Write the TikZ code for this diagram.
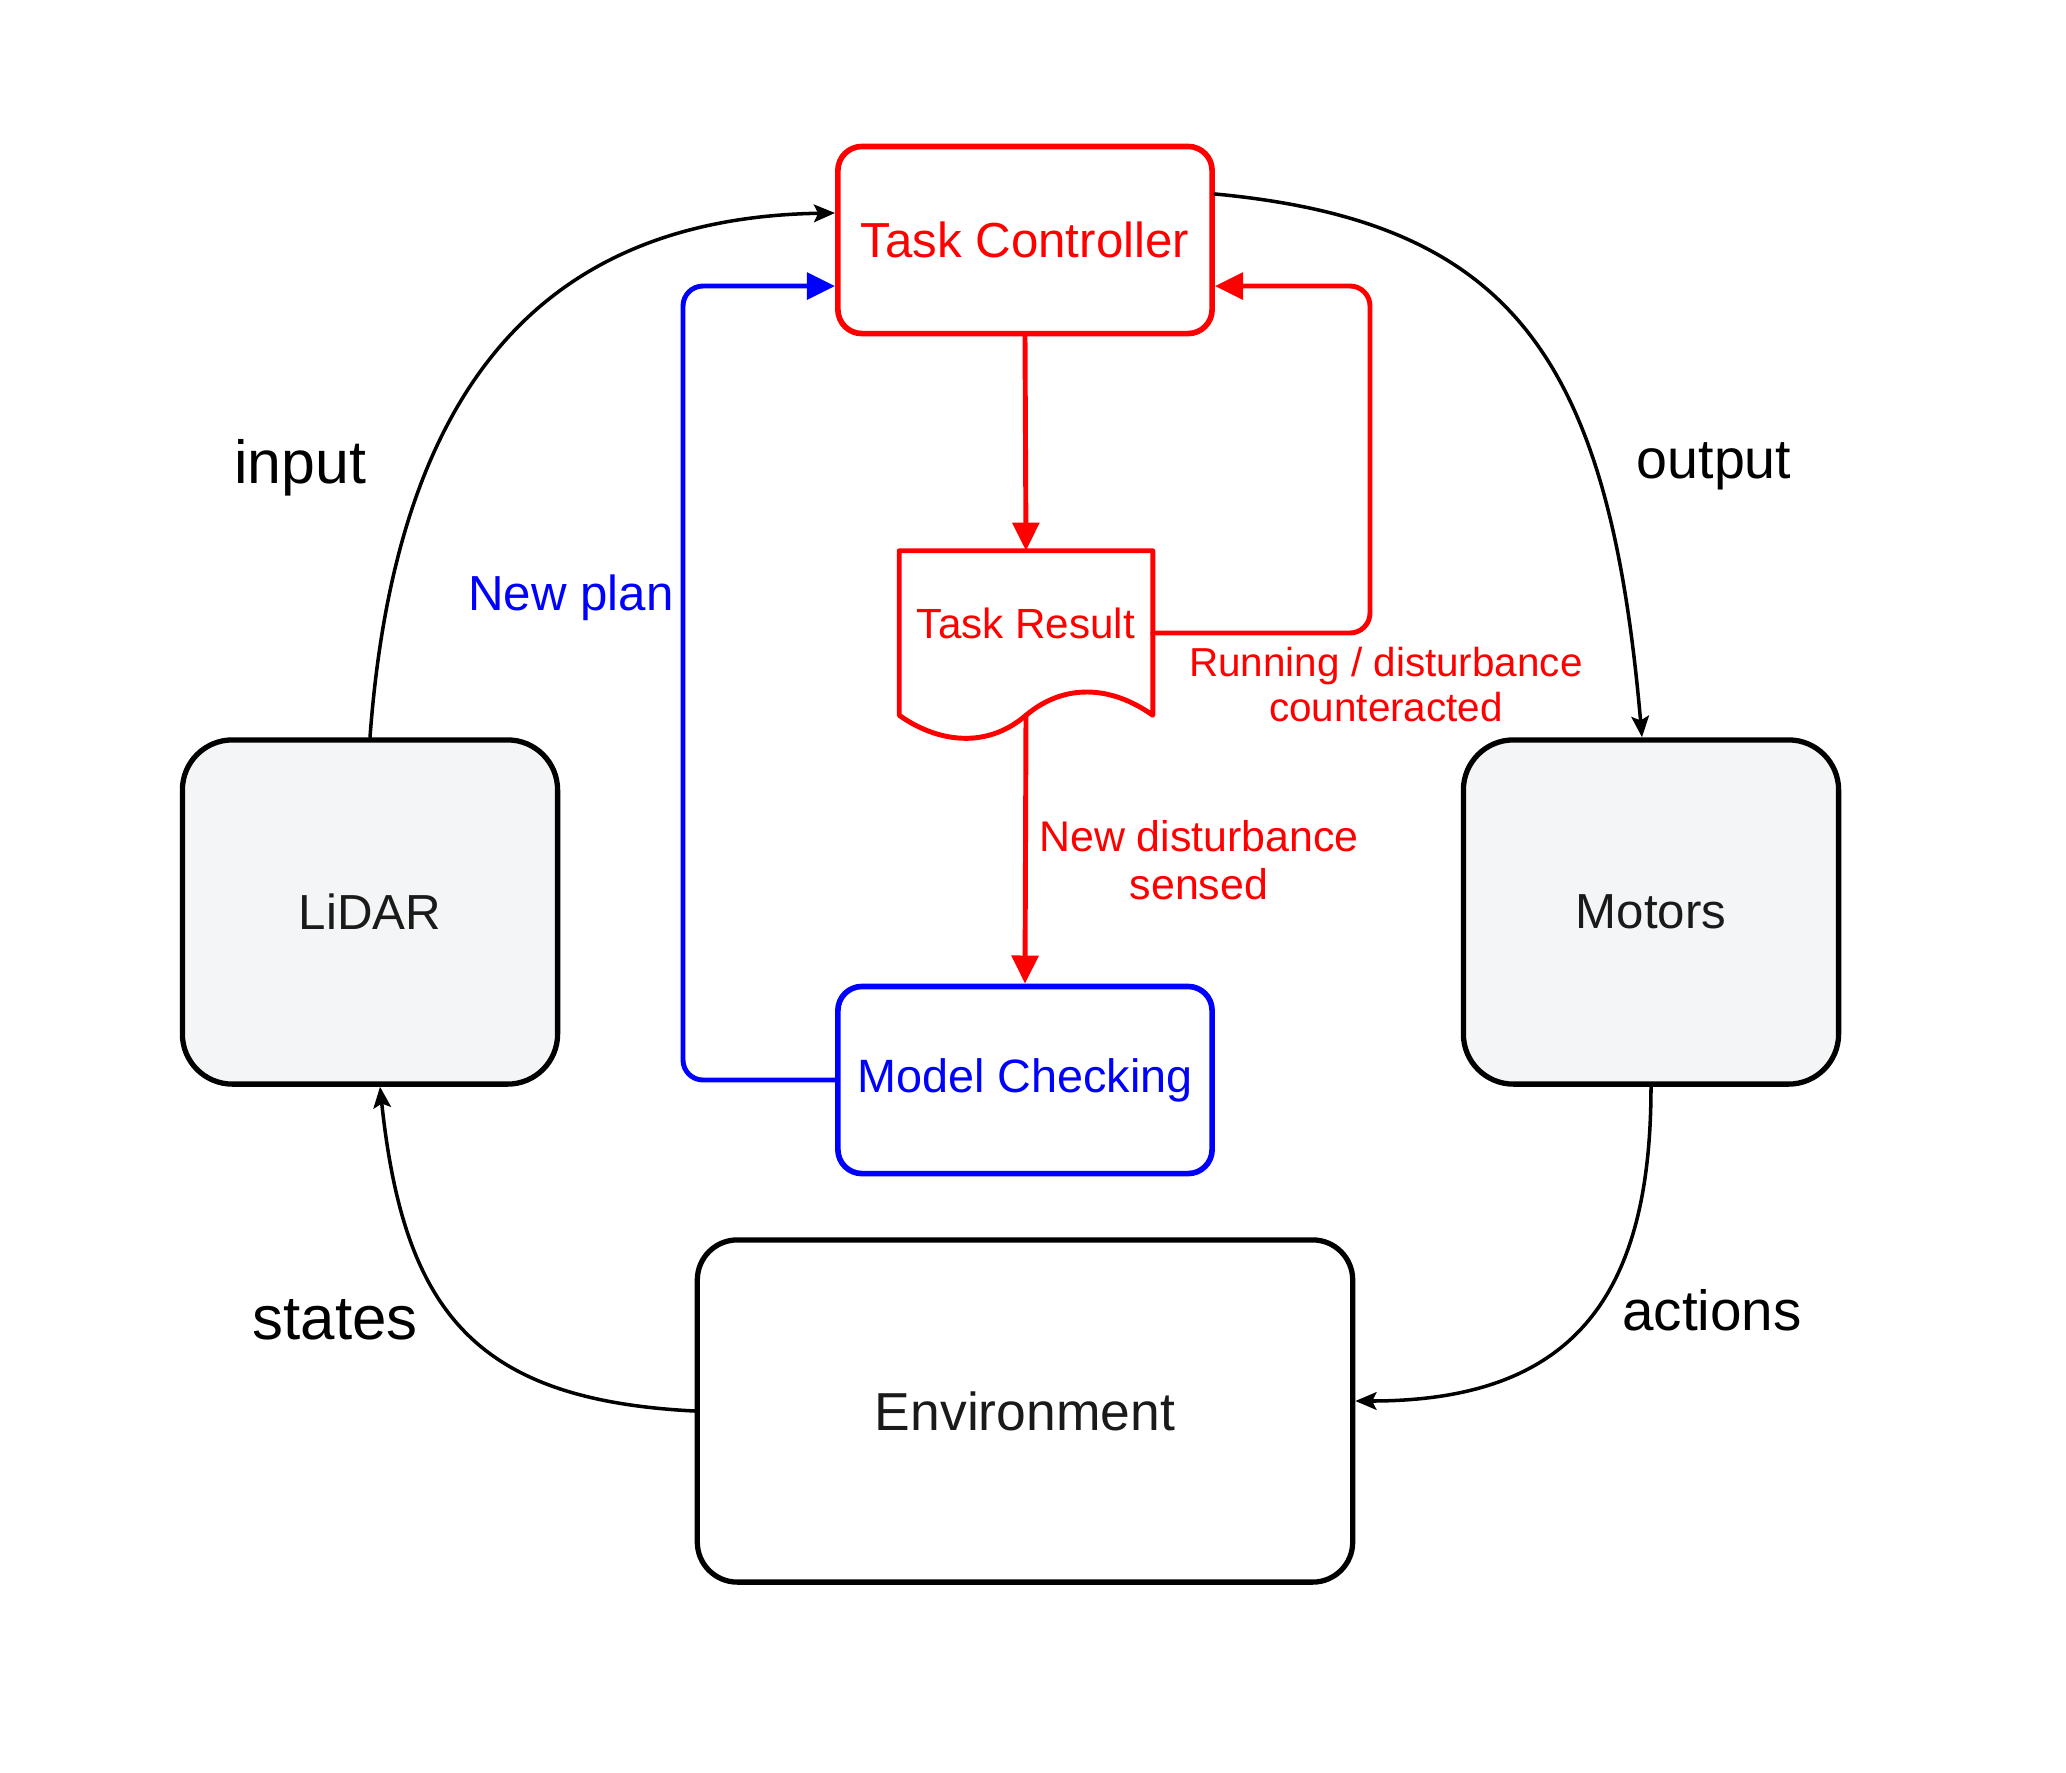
\documentclass[tikz,border=0pt]{standalone}
\usepackage{fontspec}
\setmainfont{Liberation Sans}
\usetikzlibrary{arrows.meta}
\definecolor{boxgray}{HTML}{F3F5F6}
\definecolor{txtgray}{HTML}{1A1A1A}
\begin{document}
\begin{tikzpicture}[x=0.01cm, y=-0.01cm, line join=round, line cap=round,
	blk/.style={draw=black, line width=1.5pt, rounded corners=0.5cm, minimum width=3.75cm, minimum height=3.44cm, text=txtgray, font=\fontsize{14}{17}\selectfont},
	ctl/.style={line width=1.6pt, rounded corners=0.24cm, minimum width=3.74cm, minimum height=1.87cm, font=\fontsize{14}{17}\selectfont},
	lbl/.style={font=\fontsize{16.5}{20}\selectfont},
	redlbl/.style={text=red, align=center, font=\fontsize{11.5}{12.8}\selectfont},
	flow/.style={-{Stealth[length=6pt, width=5pt, inset=1.2pt]}, line width=1pt},
	plan/.style={-{Triangle[length=8pt, width=7.5pt]}, line width=1.4pt, rounded corners=0.2cm}]
	\useasboundingbox (0,0) rectangle (2066,1772);
	\node[ctl, draw=red, text=red] (tc) at (1025,240) {Task Controller};
	\node[ctl, draw=blue, text=blue, font=\fontsize{13.3}{16}\selectfont] (mc) at (1025,1080) {Model Checking};
	\node[blk, fill=boxgray] (lidar) at (370,912) {LiDAR};
	\node[blk, fill=boxgray] (motors) at (1651,912) {Motors};
	\node[blk, minimum width=6.55cm, minimum height=3.42cm, rounded corners=0.4cm, font=\fontsize{15.2}{18}\selectfont] (env) at (1025,1411) {Environment};
	\node[minimum width=2.52cm, minimum height=1.63cm, label={[yshift=0.1cm, text=red, font=\fontsize{12}{14}\selectfont]center:Task Result}] (res) at (1026,633) {};
	\draw[red, line width=1.4pt] (res.north west) -- (res.south west) .. controls +(35,25) and +(-42,36) .. (res.south) .. controls +(38,-32) and +(-42,-30) .. (res.south east) -- (res.north east) -- cycle;
	\draw[flow] (lidar.north) .. controls (395,397) and (535,218) .. ([yshift=0.27cm]tc.west);
	\draw[flow] ([yshift=0.46cm]tc.east) .. controls (1513,222) and (1609,358) .. ([xshift=-0.09cm]motors.north);
	\draw[flow] (motors.south) .. controls (1651,1300) and (1570,1401) .. ([yshift=0.1cm]env.east);
	\draw[flow] (env.west) .. controls (476,1400) and (404,1313) .. ([xshift=0.1cm]lidar.south);
	\draw[plan, blue] (mc.west) -- (683,1080) -- (683,286) -- ([yshift=-0.46cm]tc.west);
	\draw[plan, red] (tc.south) -- (res.north);
	\draw[plan, red] (res.east) -- (1370,633) -- (1370,286) -- ([yshift=-0.46cm]tc.east);
	\draw[plan, red] (res.south) -- (mc.north);
	\node[lbl, font=\fontsize{17.3}{20}\selectfont] (lin) at (300,468) {input};
	\node[lbl, font=\fontsize{15.8}{19}\selectfont] (lout) at (1714,466) {output};
	\node[lbl, font=\fontsize{16.1}{19}\selectfont] (lact) at (1712,1310) {actions};
	\node[lbl, font=\fontsize{17.6}{21}\selectfont] (lsta) at (335,1320) {states};
	\node[text=blue, font=\fontsize{14}{17}\selectfont] (lplan) at (571,598) {New plan};
	\node[redlbl] (lrun) at (1386,685) {Running / disturbance\\counteracted};
	\node[redlbl, font=\fontsize{12.2}{13.5}\selectfont] (lnew) at (1199,860) {New disturbance\\sensed};
\end{tikzpicture}
\end{document}
